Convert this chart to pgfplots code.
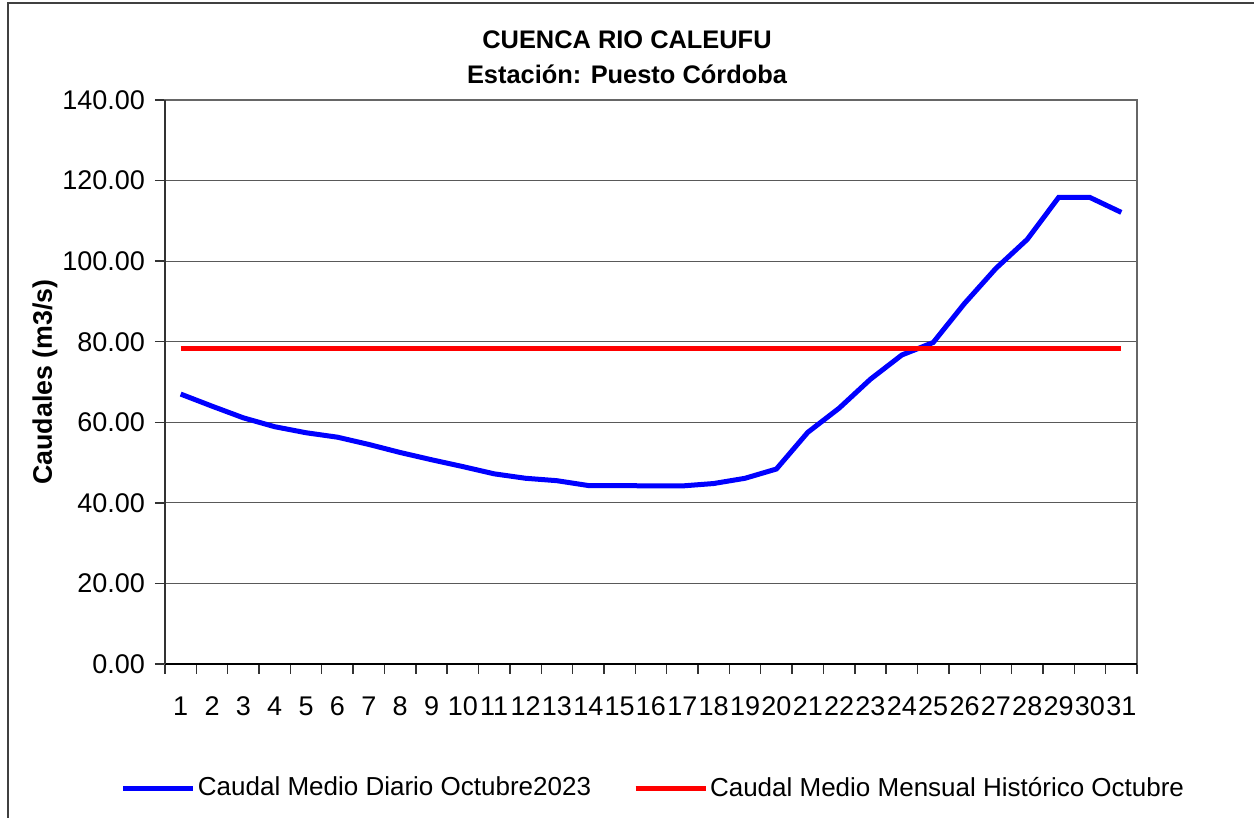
\documentclass[border=0pt]{standalone}
\usepackage{pgfplots}
\pgfplotsset{compat=1.18}
\usepackage{fontspec}
\setmainfont{Liberation Sans}
\begin{document}
\begin{tikzpicture}
\path[use as bounding box] (-82.5pt,-77pt) rectangle (544.5pt,332pt);
\fill[white] (-82.5pt,-77pt) rectangle (544.5pt,332pt);
\draw[line width=1pt, black!75] (-78.5pt,-77pt) -- (-78.5pt,330.5pt) -- (544.5pt,330.5pt);
\begin{axis}[
  at={(0pt,0pt)}, anchor=south west,
  scale only axis, width=486pt, height=282pt,
  xmin=0.5, xmax=31.5, ymin=0, ymax=140,
  xtick={1,...,31},
  minor xtick={0.5,1.5,...,31.5},
  every major x tick/.style={draw=none},
  ytick={0,20,...,140},
  tick align=outside, xtick pos=left, ytick pos=left,
  major tick length=5pt, minor tick length=5pt,
  every minor x tick/.style={black!80, line width=0.7pt},
  every major y tick/.style={black!80, line width=0.7pt},
  ymajorgrids, major grid style={black!65, line width=0.6pt},
  axis line style={black!60, line width=0.8pt},
  /pgf/number format/assume math mode=true,
  tick label style={font=\fontsize{13.5}{15}\selectfont},
  yticklabel style={/pgf/number format/fixed, /pgf/number format/fixed zerofill, /pgf/number format/precision=2, xshift=-1.5pt},
  x tick label style={yshift=-8pt, inner xsep=0pt},
  clip=false,
  legend style={at={(0.5036,-0.22)}, anchor=center, draw=none, fill=none,
    font=\fontsize{13}{15}\selectfont, legend columns=2,
    /tikz/every even column/.append style={column sep=19pt},
    /tikz/every odd column/.append style={column sep=-1pt}},
  legend image code/.code={\draw[#1] (0pt,0pt) -- (35pt,0pt);},
  legend cell align=left,
]
\addplot[blue, line width=2.5pt] coordinates {
(1,67.0) (2,64.0) (3,61.1) (4,58.9) (5,57.4) (6,56.3) (7,54.5) (8,52.5) (9,50.7) (10,49.0)
(11,47.2) (12,46.1) (13,45.5) (14,44.3) (15,44.3) (16,44.2) (17,44.2) (18,44.8) (19,46.1) (20,48.4)
(21,57.5) (22,63.5) (23,70.7) (24,76.7) (25,79.8) (26,89.5) (27,98.2) (28,105.4) (29,115.8) (30,115.8) (31,112.1)
};
\addlegendentry{Caudal Medio Diario Octubre2023}
\addplot[red, line width=2.5pt] coordinates {(1,78.4) (31,78.4)};
\addlegendentry{Caudal Medio Mensual Histórico Octubre}
\draw[black, line width=0.9pt] (rel axis cs:0,0) -- (rel axis cs:1,0);
\draw[black!80, line width=0.9pt] (rel axis cs:0,0) -- (rel axis cs:0,1);
\end{axis}
\node[font=\bfseries\fontsize{12.7}{14}\selectfont] at (231pt,312pt) {CUENCA RIO CALEUFU};
\node[font=\bfseries\fontsize{12.7}{14}\selectfont] at (231pt,295pt) {Estación: Puesto Córdoba};
\node[font=\bfseries\fontsize{13.4}{15}\selectfont, rotate=90] at (-60pt,141pt) {Caudales (m3/s)};
\end{tikzpicture}
\end{document}
